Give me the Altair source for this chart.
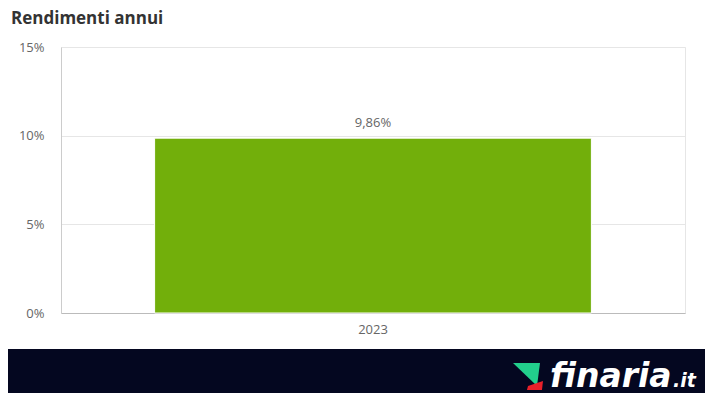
import altair as alt
import pandas as pd

# ---- data ----
years = ["2023"]
returns = [9.86]          # percent
y_ticks = [0, 5, 10, 15]
chart_title = "Rendimenti annui"
brand = "finaria"
brand_tld = ".it"

df = pd.DataFrame({"anno": years, "rendimento": returns})

W, H = 624, 266
PL, PT, PR, PB = 53, 39, 20, 80
FONT = "Open Sans"

base = alt.Chart(df)

x_enc = alt.X(
    "anno:N", title=None,
    scale=alt.Scale(paddingInner=0.3, paddingOuter=0.15),
    axis=alt.Axis(labelAngle=0, ticks=False, domainColor="#bbbbbb", domainWidth=1,
                  labelColor="#666666", labelFontSize=13, labelPadding=10,
                  grid=False, labelFont=FONT),
)
y_enc = alt.Y(
    "rendimento:Q", title=None,
    scale=alt.Scale(domain=[0, 15], nice=False),
    axis=alt.Axis(values=y_ticks, labelExpr="datum.value + '%'", ticks=False,
                  domainColor="#cccccc", gridColor="#e6e6e6", labelColor="#666666",
                  labelFontSize=13, labelPadding=17, labelFont=FONT),
)

bars = base.mark_bar(color="#72AF0B", stroke="white", strokeWidth=1).encode(x=x_enc, y=y_enc)

labels = base.transform_calculate(
    lab="replace(format(datum.rendimento, '.2f'), '.', ',') + '%'"
).mark_text(baseline="bottom", dy=-8, fontSize=13, color="#666666", font=FONT).encode(
    x="anno:N", y="rendimento:Q", text="lab:N"
)

title_mark = base.mark_text(align="left", baseline="top", fontSize=17, fontWeight="bold",
                            color="#333333", font=FONT).encode(
    x=alt.value(-50), y=alt.value(-36), text=alt.value(chart_title)
)

banner = base.mark_rect(color="#040720").encode(
    x=alt.value(-PL), x2=alt.value(W + PR), y=alt.value(302), y2=alt.value(346)
)

icon_green = base.mark_point(filled=True, opacity=1, color="#22cf8c",
                             shape="M -1 -0.93 L 0.8 -0.93 L 0.6 0.6 Z", size=900).encode(
    x=alt.value(467), y=alt.value(330)
)
icon_red = base.mark_point(filled=True, opacity=1, color="#e8202a",
                           shape="M 0 0.6 L 1 0.27 L 0.93 0.87 L -0.07 0.87 Z", size=900).encode(
    x=alt.value(467), y=alt.value(330)
)

logo = base.mark_text(align="left", baseline="alphabetic", fontSize=33, fontWeight="bold",
                      fontStyle="italic", color="white", font="DejaVu Sans").encode(
    x=alt.value(489), y=alt.value(340), text=alt.value(brand)
)
logo_tld = base.mark_text(align="left", baseline="alphabetic", fontSize=19, fontWeight="bold",
                          fontStyle="italic", color="white", font="DejaVu Sans").encode(
    x=alt.value(612), y=alt.value(340), text=alt.value(brand_tld)
)

chart = alt.layer(bars, labels, title_mark, banner, icon_green, icon_red, logo, logo_tld).properties(
    width=W, height=H,
    padding={"left": PL, "top": PT, "right": PR, "bottom": PB},
    autosize=alt.AutoSizeParams(type="none"),
    background="white",
).configure_view(stroke="#e6e6e6", strokeWidth=1)

chart.save("out.html", embed_options={"renderer": "svg", "actions": False})
